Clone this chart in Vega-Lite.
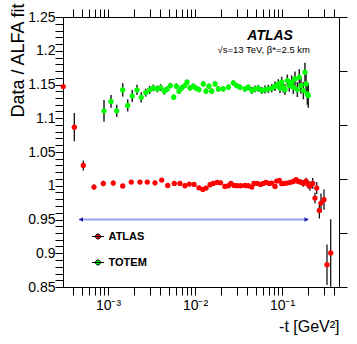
{
  "$schema": "https://vega.github.io/schema/vega-lite/v6.json",
  "width": 276,
  "height": 270,
  "autosize": {"type": "none"},
  "padding": {"left": 63, "top": 17, "right": 18, "bottom": 57},
  "background": "white",
  "config": {
    "view": {"stroke": null},
    "font": "Liberation Sans",
    "axis": {"labelFont": "Liberation Sans", "titleFont": "Liberation Sans", "labelColor": "black", "titleColor": "black", "titleFontWeight": "normal", "domainColor": "black", "tickColor": "black", "domainWidth": 1, "tickWidth": 1, "grid": false, "labelOverlap": false, "labelFlush": false, "labelBound": false}
  },
  "datasets": {
    "atlas": [
      {"t": 0.000306, "r": 1.1469, "e": 0.002},
      {"t": 0.00041, "r": 1.0868, "e": 0.021},
      {"t": 0.00052, "r": 1.030, "e": 0.0075},
      {"t": 0.00069, "r": 0.9981, "e": 0.004},
      {"t": 0.000883, "r": 1.0034, "e": 0.004},
      {"t": 0.00115, "r": 1.004, "e": 0.004},
      {"t": 0.001476, "r": 0.9996, "e": 0.003},
      {"t": 0.001853, "r": 1.0055, "e": 0.003},
      {"t": 0.00233, "r": 1.0055, "e": 0.003},
      {"t": 0.00283, "r": 1.0055, "e": 0.003},
      {"t": 0.00347, "r": 1.0044, "e": 0.003},
      {"t": 0.00414, "r": 1.0084, "e": 0.003},
      {"t": 0.00486, "r": 1.0004, "e": 0.003},
      {"t": 0.00578, "r": 1.0034, "e": 0.003},
      {"t": 0.00672, "r": 1.0034, "e": 0.003},
      {"t": 0.00767, "r": 1.0, "e": 0.003},
      {"t": 0.0086, "r": 1.0025, "e": 0.003},
      {"t": 0.00975, "r": 1.0019, "e": 0.003},
      {"t": 0.0111, "r": 0.997, "e": 0.003},
      {"t": 0.0123, "r": 0.9945, "e": 0.003},
      {"t": 0.0134, "r": 0.9966, "e": 0.003},
      {"t": 0.0149, "r": 1.0015, "e": 0.003},
      {"t": 0.0162, "r": 1.0034, "e": 0.003},
      {"t": 0.018, "r": 1.0049, "e": 0.003},
      {"t": 0.0197, "r": 1.0044, "e": 0.003},
      {"t": 0.0221, "r": 0.999, "e": 0.003},
      {"t": 0.0242, "r": 1.0, "e": 0.003},
      {"t": 0.0259, "r": 1.0034, "e": 0.003},
      {"t": 0.0281, "r": 1.0004, "e": 0.003},
      {"t": 0.0306, "r": 1.0, "e": 0.003},
      {"t": 0.0335, "r": 1.0, "e": 0.003},
      {"t": 0.0376, "r": 1.0004, "e": 0.003},
      {"t": 0.041, "r": 1.0, "e": 0.003},
      {"t": 0.0449, "r": 0.9981, "e": 0.003},
      {"t": 0.0476, "r": 1.0034, "e": 0.003},
      {"t": 0.052, "r": 1.0034, "e": 0.003},
      {"t": 0.0569, "r": 1.0019, "e": 0.003},
      {"t": 0.061, "r": 1.0034, "e": 0.003},
      {"t": 0.0655, "r": 1.0049, "e": 0.003},
      {"t": 0.0714, "r": 1.0034, "e": 0.003},
      {"t": 0.0762, "r": 1.004, "e": 0.003},
      {"t": 0.0831, "r": 0.999, "e": 0.003},
      {"t": 0.0869, "r": 1.007, "e": 0.003},
      {"t": 0.0931, "r": 1.0078, "e": 0.003},
      {"t": 0.0993, "r": 1.003, "e": 0.003},
      {"t": 0.1054, "r": 1.0034, "e": 0.003},
      {"t": 0.1133, "r": 1.004, "e": 0.003},
      {"t": 0.1236, "r": 1.0049, "e": 0.003},
      {"t": 0.1349, "r": 1.0064, "e": 0.004},
      {"t": 0.145, "r": 1.0089, "e": 0.004},
      {"t": 0.154, "r": 1.0064, "e": 0.004},
      {"t": 0.164, "r": 1.0055, "e": 0.004},
      {"t": 0.176, "r": 1.0034, "e": 0.005},
      {"t": 0.189, "r": 1.007, "e": 0.005},
      {"t": 0.2005, "r": 1.0015, "e": 0.006},
      {"t": 0.21, "r": 0.9996, "e": 0.007},
      {"t": 0.2254, "r": 1.0034, "e": 0.008},
      {"t": 0.2395, "r": 0.9818, "e": 0.008},
      {"t": 0.2506, "r": 0.9966, "e": 0.009},
      {"t": 0.2685, "r": 0.9635, "e": 0.012},
      {"t": 0.2806, "r": 0.9744, "e": 0.014},
      {"t": 0.304, "r": 0.9793, "e": 0.015},
      {"t": 0.329, "r": 0.8831, "e": 0.03},
      {"t": 0.363, "r": 0.9004, "e": 0.05}
    ],
    "totem": [
      {"t": 0.0009, "r": 1.111, "e": 0.016},
      {"t": 0.001083, "r": 1.125, "e": 0.0096},
      {"t": 0.001259, "r": 1.111, "e": 0.009},
      {"t": 0.001476, "r": 1.142, "e": 0.01},
      {"t": 0.001684, "r": 1.119, "e": 0.009},
      {"t": 0.0019, "r": 1.133, "e": 0.009},
      {"t": 0.002154, "r": 1.142, "e": 0.0075},
      {"t": 0.00241, "r": 1.131, "e": 0.0075},
      {"t": 0.00271, "r": 1.138, "e": 0.006},
      {"t": 0.00301, "r": 1.142, "e": 0.006},
      {"t": 0.00332, "r": 1.145, "e": 0.005},
      {"t": 0.00369, "r": 1.1435, "e": 0.005},
      {"t": 0.00403, "r": 1.1454, "e": 0.005},
      {"t": 0.00444, "r": 1.1401, "e": 0.005},
      {"t": 0.00477, "r": 1.143, "e": 0.004},
      {"t": 0.0052, "r": 1.1484, "e": 0.004},
      {"t": 0.00569, "r": 1.1312, "e": 0.004},
      {"t": 0.0061, "r": 1.1475, "e": 0.004},
      {"t": 0.00655, "r": 1.1401, "e": 0.004},
      {"t": 0.00703, "r": 1.145, "e": 0.004},
      {"t": 0.00762, "r": 1.1484, "e": 0.004},
      {"t": 0.00809, "r": 1.1534, "e": 0.004},
      {"t": 0.00876, "r": 1.145, "e": 0.004},
      {"t": 0.00956, "r": 1.1475, "e": 0.004},
      {"t": 0.01026, "r": 1.1445, "e": 0.004},
      {"t": 0.0111, "r": 1.1425, "e": 0.004},
      {"t": 0.01245, "r": 1.1509, "e": 0.004},
      {"t": 0.01337, "r": 1.1401, "e": 0.004},
      {"t": 0.01449, "r": 1.1475, "e": 0.004},
      {"t": 0.01556, "r": 1.1401, "e": 0.004},
      {"t": 0.01698, "r": 1.1509, "e": 0.004},
      {"t": 0.01853, "r": 1.1435, "e": 0.004},
      {"t": 0.0211, "r": 1.1435, "e": 0.004},
      {"t": 0.0242, "r": 1.146, "e": 0.004},
      {"t": 0.0276, "r": 1.1524, "e": 0.004},
      {"t": 0.0301, "r": 1.1484, "e": 0.004},
      {"t": 0.0329, "r": 1.146, "e": 0.004},
      {"t": 0.0376, "r": 1.1435, "e": 0.004},
      {"t": 0.041, "r": 1.146, "e": 0.004},
      {"t": 0.0449, "r": 1.141, "e": 0.005},
      {"t": 0.0489, "r": 1.1435, "e": 0.005},
      {"t": 0.0534, "r": 1.1445, "e": 0.005},
      {"t": 0.0584, "r": 1.141, "e": 0.005},
      {"t": 0.0638, "r": 1.1425, "e": 0.006},
      {"t": 0.0696, "r": 1.1435, "e": 0.006},
      {"t": 0.0762, "r": 1.1445, "e": 0.006},
      {"t": 0.0831, "r": 1.1475, "e": 0.007},
      {"t": 0.0906, "r": 1.1509, "e": 0.007},
      {"t": 0.0948, "r": 1.1445, "e": 0.007},
      {"t": 0.0993, "r": 1.1534, "e": 0.008},
      {"t": 0.1035, "r": 1.146, "e": 0.008},
      {"t": 0.1082, "r": 1.1425, "e": 0.008},
      {"t": 0.1151, "r": 1.1558, "e": 0.009},
      {"t": 0.1213, "r": 1.1484, "e": 0.009},
      {"t": 0.1292, "r": 1.1534, "e": 0.01},
      {"t": 0.1349, "r": 1.146, "e": 0.01},
      {"t": 0.141, "r": 1.1583, "e": 0.011},
      {"t": 0.15, "r": 1.1425, "e": 0.011},
      {"t": 0.158, "r": 1.1608, "e": 0.012},
      {"t": 0.1653, "r": 1.1484, "e": 0.012},
      {"t": 0.176, "r": 1.141, "e": 0.013},
      {"t": 0.1837, "r": 1.1682, "e": 0.014},
      {"t": 0.189, "r": 1.1509, "e": 0.015},
      {"t": 0.1954, "r": 1.1361, "e": 0.016},
      {"t": 0.2005, "r": 1.1336, "e": 0.018}
    ]
  },
  "layer": [
    {
      "encoding": {
        "x": {"field": "t", "type": "quantitative", "title": "-t [GeV²]", "scale": {"type": "log", "domain": [0.000304, 0.452], "nice": false},
          "axis": {"orient": "bottom", "values": [0.0004,0.0005,0.0006,0.0007,0.0008,0.0009,0.001,0.002,0.003,0.004,0.005,0.006,0.007,0.008,0.009,0.01,0.02,0.03,0.04,0.05,0.06,0.07,0.08,0.09,0.1,0.2,0.3,0.4],
            "labelExpr": "abs(log(datum.value)/LN10 + 3) < 0.001 ? '10⁻³' : abs(log(datum.value)/LN10 + 2) < 0.001 ? '10⁻²' : abs(log(datum.value)/LN10 + 1) < 0.001 ? '10⁻¹' : ''",
            "labelFontSize": 14, "labelPadding": 3, "labelOverlap": false, "labelFlush": false, "labelBound": false, "tickSize": 8,
            "titleFontSize": 16, "titleAnchor": "end", "titleAlign": "right", "titleX": 276, "titleY": 44, "titleBaseline": "alphabetic",
            "encode": {"ticks": {"update": {"y2": {"signal": "abs(log(datum.value)/LN10 - round(log(datum.value)/LN10)) < 0.001 ? -8 : -4"}}}}}},
        "y": {"field": "r", "type": "quantitative", "title": "Data / ALFA fit", "scale": {"domain": [0.85, 1.25], "nice": false, "zero": false},
          "axis": {"orient": "left", "values": [0.85,0.86,0.87,0.88,0.89,0.9,0.91,0.92,0.93,0.94,0.95,0.96,0.97,0.98,0.99,1,1.01,1.02,1.03,1.04,1.05,1.06,1.07,1.08,1.09,1.1,1.11,1.12,1.13,1.14,1.15,1.16,1.17,1.18,1.19,1.2,1.21,1.22,1.23,1.24,1.25],
            "labelExpr": "abs(datum.value*20 - round(datum.value*20)) < 0.001 ? format(datum.value, '~g') : ''",
            "labelFontSize": 14, "labelPadding": 0, "labelOverlap": false, "labelFlush": false, "labelBound": false, "tickSize": 8,
            "titleFontSize": 18, "titleAnchor": "end", "titleX": -40, "titleY": -14, "titleBaseline": "alphabetic",
            "encode": {"ticks": {"update": {"x2": {"signal": "abs(datum.value*20 - round(datum.value*20)) < 0.001 ? -8 : -6"}}}}}}
      },
      "layer": [
        {
          "data": {"name": "totem"},
          "mark": {"type": "errorbar", "color": "#222222", "thickness": 1.5},
          "encoding": {"yError": {"field": "e"}}
        },
        {
          "data": {"name": "totem"},
          "mark": {"type": "circle", "size": 28, "opacity": 1},
          "encoding": {"color": {"datum": "TOTEM", "type": "nominal"}}
        },
        {
          "data": {"name": "atlas"},
          "mark": {"type": "errorbar", "color": "black", "thickness": 1.2},
          "encoding": {"yError": {"field": "e"}}
        },
        {
          "data": {"name": "atlas"},
          "mark": {"type": "circle", "size": 28, "opacity": 1},
          "encoding": {
            "color": {"datum": "ATLAS", "type": "nominal",
              "scale": {"domain": ["ATLAS", "TOTEM"], "range": ["#ff0000", "#00ff00"]},
              "legend": {"orient": "none", "legendX": 28.5, "legendY": 213, "title": null, "direction": "vertical",
                "symbolType": "M-1,0L1,0M-0.42,0A0.42,0.42,0,1,0,0.42,0A0.42,0.42,0,1,0,-0.42,0Z",
                "symbolSize": 144, "symbolStrokeWidth": 1, "symbolStrokeColor": "black",
                "labelFont": "Liberation Sans", "labelFontSize": 11, "labelFontWeight": "bold", "labelColor": "black",
                "labelOffset": 4, "rowPadding": 14, "padding": 0,
                "encode": {"symbols": {"update": {"shape": {"value": "M-1,0L1,0M-0.42,0A0.42,0.42,0,1,0,0.42,0A0.42,0.42,0,1,0,-0.42,0Z"}, "stroke": {"value": "black"}, "strokeWidth": {"value": 1}, "opacity": {"value": 1}}}}}}
          }
        }
      ]
    },
    {
      "data": {"values": [{}]},
      "layer": [
        {
          "mark": {"type": "rule", "color": "#9c9cf4", "strokeWidth": 2},
          "encoding": {
            "x": {"datum": 0.000464, "type": "quantitative", "scale": {"type": "log", "domain": [0.000304, 0.452], "nice": false},
              "axis": {"orient": "top", "values": [0.0004,0.0005,0.0006,0.0007,0.0008,0.0009,0.001,0.002,0.003,0.004,0.005,0.006,0.007,0.008,0.009,0.01,0.02,0.03,0.04,0.05,0.06,0.07,0.08,0.09,0.1,0.2,0.3,0.4],
                "labels": false, "title": null, "tickSize": 8,
                "encode": {"ticks": {"update": {"y2": {"signal": "abs(log(datum.value)/LN10 - round(log(datum.value)/LN10)) < 0.001 ? 8 : 4"}}}}}},
            "x2": {"datum": 0.2005},
            "y": {"datum": 0.95, "type": "quantitative", "scale": {"domain": [0.85, 1.25], "nice": false, "zero": false},
              "axis": {"orient": "right", "values": [0.85,0.86,0.87,0.88,0.89,0.9,0.91,0.92,0.93,0.94,0.95,0.96,0.97,0.98,0.99,1,1.01,1.02,1.03,1.04,1.05,1.06,1.07,1.08,1.09,1.1,1.11,1.12,1.13,1.14,1.15,1.16,1.17,1.18,1.19,1.2,1.21,1.22,1.23,1.24,1.25],
                "labels": false, "title": null, "tickSize": 8,
                "encode": {"ticks": {"update": {"x2": {"signal": "abs(datum.value*20 - round(datum.value*20)) < 0.001 ? -8 : -4"}}}}}}
          }
        },
        {
          "mark": {"type": "point", "shape": "triangle-left", "filled": true, "size": 22, "color": "#1c1ca6", "opacity": 1},
          "encoding": {
            "x": {"datum": 0.000489, "type": "quantitative"},
            "y": {"datum": 0.95, "type": "quantitative"}
          }
        },
        {
          "mark": {"type": "point", "shape": "triangle-right", "filled": true, "size": 22, "color": "#1c1ca6", "opacity": 1},
          "encoding": {
            "x": {"datum": 0.1912, "type": "quantitative"},
            "y": {"datum": 0.95, "type": "quantitative"}
          }
        },
        {
          "mark": {"type": "text", "text": "ATLAS", "font": "Liberation Sans", "fontSize": 14, "fontWeight": "bold", "fontStyle": "italic", "align": "right", "baseline": "middle", "color": "black"},
          "encoding": {
            "x": {"datum": 0.1336, "type": "quantitative"},
            "y": {"datum": 1.2219, "type": "quantitative"}
          }
        },
        {
          "mark": {"type": "text", "text": "√s=13 TeV, β*=2.5 km", "font": "Liberation Sans", "fontSize": 9.5, "align": "right", "baseline": "middle", "color": "black"},
          "encoding": {
            "x": {"datum": 0.21, "type": "quantitative"},
            "y": {"datum": 1.2004, "type": "quantitative"}
          }
        }
      ]
    }
  ],
  "resolve": {"axis": {"x": "independent", "y": "independent"}}
}
